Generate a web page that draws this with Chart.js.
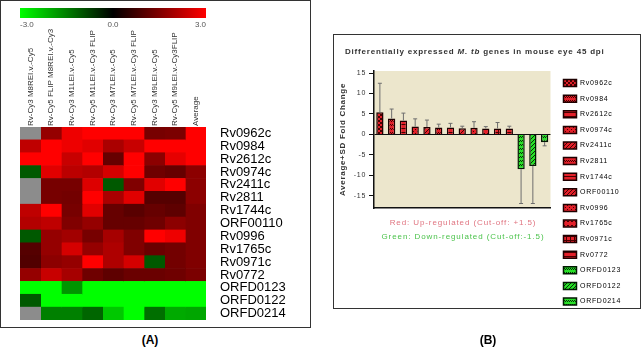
<!DOCTYPE html>
<html>
<head>
<meta charset="utf-8">
<script src="https://cdn.jsdelivr.net/npm/chart.js@4.4.0/dist/chart.umd.min.js"></script>
<style>
  body { margin: 0; background: #fff; font-family: "Liberation Sans", Arial, sans-serif; }
  #wrap { position: relative; width: 642px; height: 348px; overflow: hidden; }
  .box { position: absolute; border: 1.5px solid #333; box-sizing: border-box; }
  canvas { position: absolute; }
  .txt { position: absolute; white-space: nowrap; }
</style>
</head>
<body>
<div id="wrap">
  <div class="box" style="left:0;top:0;width:311px;height:328px"></div>
  <div class="box" style="left:333px;top:34px;width:308px;height:275px"></div>

  <canvas id="scaleBar" width="186" height="23" style="left:20px;top:8px"></canvas>
  <canvas id="heatmap" width="290" height="300" style="left:20px;top:20px"></canvas>
  <canvas id="foldChart" width="297" height="304" style="left:334px;top:36px"></canvas>

  <div class="txt" style="left:345px;top:47px;font-size:8px;font-weight:bold;letter-spacing:0.8px;color:#333">Differentially expressed <i>M. tb</i> genes in mouse eye 45 dpi</div>
  <div class="txt" style="left:360px;top:218px;width:206px;text-align:center;font-size:8px;letter-spacing:0.9px;color:#e07480">Red: Up-regulated (Cut-off: +1.5)</div>
  <div class="txt" style="left:360px;top:232px;width:206px;text-align:center;font-size:8px;letter-spacing:0.9px;color:#4cc34c">Green: Down-regulated (Cut-off:-1.5)</div>

  <div class="txt" style="left:0;top:333px;width:300px;text-align:center;font-size:12px;font-weight:bold">(A)</div>
  <div class="txt" style="left:333px;top:333px;width:310px;text-align:center;font-size:12px;font-weight:bold">(B)</div>
</div>

<script>
Chart.defaults.font.family = '"Liberation Sans", Arial, sans-serif';

// genes, same order in both panels
const genes = ['Rv0962c', 'Rv0984', 'Rv2612c', 'Rv0974c', 'Rv2411c', 'Rv2811', 'Rv1744c', 'ORF00110',
  'Rv0996', 'Rv1765c', 'Rv0971c', 'Rv0772', 'ORFD0123', 'ORFD0122', 'ORFD0214'];

// heatmap columns (arrays)
const arrays = ['Rv-Cy3 M8REI.v.-Cy5', 'Rv-Cy5 FLIP M8REI.v.-Cy3', 'Rv-Cy3 M1LEI.v.-Cy5', 'Rv-Cy5 M1LEI.v.-Cy3 FLIP',
  'Rv-Cy3 M7LEI.v.-Cy5', 'Rv-Cy5 M7LEI.v.-Cy3 FLIP', 'Rv-Cy3 M9LEI.v.-Cy5', 'Rv-Cy5 M9LEI.v.-Cy3FLIP', 'Average'];

// log ratios, one row per gene, null = no data (grey)
const logRatio = [
  [null, 1.75, 2.8, 3, 3, 3, 1.4, 1.45, 3],
  [2.25, 3, 2.8, 2.65, 2.0, 2.35, 3, 3, 3],
  [3, 3, 2.35, 3, 1.2, 3, 1.65, 2.7, 3],
  [-1.05, 2.65, 2.2, 2.1, 2.5, 3, 1.3, 1.2, 1.65],
  [null, 1.4, 1.4, 2.6, -1.05, 1.5, 2.65, 3, 1.65],
  [null, 1.4, 1.35, 3, 2.0, 2.65, 1.0, 1.0, 1.65],
  [2.25, 3, 1.4, 2.65, 1.2, 1.05, 1.2, 1.1, 1.5],
  [2.1, 2.25, 1.5, 1.75, 1.2, 1.2, 1.3, 1.65, 1.5],
  [-1.05, 1.75, 1.9, 1.4, 1.95, 1.5, 3, 2.8, 1.5],
  [1.0, 1.75, 2.5, 1.75, 2.05, 1.5, 1.25, 1.35, 1.5],
  [0.95, 1.65, 1.75, 3, 2.05, 2.5, -1.05, 1.35, 1.5],
  [1.75, 2.35, 1.95, 1.3, 1.1, 1.25, 1.25, 1.3, 1.45],
  [-3, -3, -1.75, -3, -3, -3, -3, -3, -3],
  [-1.05, -3, -3, -3, -3, -3, -3, -3, -3],
  [null, -1.5, -1.5, -1.2, -2.35, -3, -1.3, -2.0, -1.95]
];

const scaleMin = -3.0;
const scaleMax = 3.0;

// fold change (panel B)
const foldMean = [5.4, 3.9, 3.4, 1.9, 1.8, 1.7, 1.7, 1.5, 1.6, 1.45, 1.45, 1.45, -8.5, -7.7, -1.9];
const foldSD = [7.1, 2.3, 1.8, 1.9, 1.7, 0.8, 1.0, 0.5, 1.5, 0.45, 1.45, 0.55, 8.4, 9.2, 0.9];
const foldTicks = [15, 10, 5, 0, -5, -10, -15];

// fill style of each bar
const barKinds = ['check', 'wave', 'hline', 'dots', 'diag', 'wave', 'hline', 'diag',
  'dots', 'dot', 'grid', 'hline', 'wave', 'diag', 'wave'];


function cellColor(v) {
  if (v === null) return '#8c8c8c';
  const k = Math.min(Math.abs(v) / scaleMax, 1);
  const c = Math.round(255 * k);
  return v >= 0 ? 'rgb(' + c + ',0,0)' : 'rgb(0,' + c + ',0)';
}

function gradFill(ctx) {
  const area = ctx.chart.chartArea;
  if (!area) return '#000';
  const g = ctx.chart.ctx.createLinearGradient(area.left, 0, area.right, 0);
  g.addColorStop(0, cellColor(scaleMin));
  g.addColorStop(0.5, cellColor(0));
  g.addColorStop(1, cellColor(scaleMax));
  return g;
}

// drop the half-label padding chart.js adds round an axis
function noPad(s) {
  s.paddingTop = 0; s.paddingBottom = 0; s.paddingLeft = 0; s.paddingRight = 0;
}

// colour scale
new Chart(document.getElementById('scaleBar'), {
  type: 'bar',
  data: {
    labels: [''],
    datasets: [{ data: [[scaleMin, scaleMax]], backgroundColor: gradFill, borderWidth: 0,
      barPercentage: 1, categoryPercentage: 1 }]
  },
  options: {
    responsive: false, animation: false, indexAxis: 'y',
    layout: { padding: 0 },
    plugins: { legend: { display: false }, tooltip: { enabled: false } },
    scales: {
      x: { min: scaleMin, max: scaleMax,
        ticks: { stepSize: 3, align: 'inner', font: { size: 8 }, color: '#555', padding: 2,
          callback: v => Number(v).toFixed(1) },
        grid: { display: false, drawTicks: false }, border: { display: false },
        afterFit: s => { s.height = 13; noPad(s); } },
      y: { display: false }
    }
  }
});

// heatmap: one stacked bar segment per cell
new Chart(document.getElementById('heatmap'), {
  type: 'bar',
  data: {
    labels: genes,
    datasets: arrays.map((a, j) => ({
      label: a,
      data: genes.map(() => 1),
      backgroundColor: genes.map((g, i) => cellColor(logRatio[i][j])),
      borderWidth: 0, barPercentage: 1, categoryPercentage: 1
    }))
  },
  options: {
    responsive: false, animation: false, indexAxis: 'y',
    layout: { padding: 0 },
    plugins: { legend: { display: false }, tooltip: { enabled: false } },
    scales: {
      x: { stacked: true, min: 0, max: arrays.length, display: false },
      y: { stacked: true, position: 'right',
        grid: { display: false, drawTicks: false }, border: { display: false },
        ticks: { autoSkip: false, color: '#000', font: { size: 13 }, padding: 14 },
        afterFit: s => { s.width = 104; noPad(s); } },
      xTop: { type: 'category', labels: arrays, position: 'top', offset: true,
        grid: { display: false, drawTicks: false }, border: { display: false },
        ticks: { autoSkip: false, minRotation: 90, maxRotation: 90, font: { size: 8 }, color: '#333',
          padding: 1, labelOffset: 9.6 },
        afterFit: s => { s.height = 107; noPad(s); } }
    }
  }
});

// panel B
const foldCanvas = document.getElementById('foldChart');
const fctx = foldCanvas.getContext('2d');

function makePattern(base, ink, kind) {
  const c = document.createElement('canvas');
  c.width = 4; c.height = 4;
  const g = c.getContext('2d');
  g.fillStyle = base; g.fillRect(0, 0, 4, 4);
  g.fillStyle = ink;
  if (kind == 'check') { g.fillRect(0, 0, 2, 2); g.fillRect(2, 2, 2, 2); }
  if (kind == 'hline') g.fillRect(0, 0, 4, 1);
  if (kind == 'dots') { g.fillRect(1, 1, 1, 1); g.fillRect(3, 3, 1, 1); }
  if (kind == 'dot') g.fillRect(1, 1, 2, 1);
  if (kind == 'diag') for (let k = 0; k < 4; k++) g.fillRect(k, 3 - k, 1, 1);
  if (kind == 'wave') { g.fillRect(0, 0, 1, 1); g.fillRect(1, 1, 1, 1); g.fillRect(2, 0, 1, 1); g.fillRect(3, 1, 1, 1); }
  if (kind == 'grid') { g.fillRect(0, 0, 4, 1); g.fillRect(0, 0, 1, 4); }
  return fctx.createPattern(c, 'repeat');
}

const barFills = foldMean.map((v, i) => v >= 0
  ? makePattern('#e3202a', '#4a0000', barKinds[i])
  : makePattern('#28e028', '#063006', barKinds[i]));
const barEdges = foldMean.map(v => v >= 0 ? '#1e0000' : '#031803');

const plotBg = {
  id: 'plotBg',
  beforeDraw(chart) {
    const { ctx, chartArea: a } = chart;
    ctx.save();
    ctx.fillStyle = '#ece6cc';
    ctx.fillRect(a.left, a.top, a.right - a.left, a.bottom - a.top);
    ctx.restore();
  }
};

const spacing = {
  id: 'spacing',
  beforeLayout(chart) { chart.ctx.letterSpacing = '0.7px'; },
  beforeDraw(chart) { chart.ctx.letterSpacing = '0.7px'; }
};

const errorBars = {
  id: 'errorBars',
  afterDatasetsDraw(chart) {
    const ctx = chart.ctx;
    const ys = chart.scales.y;
    const meta = chart.getDatasetMeta(0);
    ctx.save();
    ctx.strokeStyle = '#6e6e6e';
    ctx.lineWidth = 1;
    meta.data.forEach((bar, i) => {
      const v = foldMean[i];
      const end = v + Math.sign(v) * foldSD[i];
      const y0 = ys.getPixelForValue(v);
      const y1 = ys.getPixelForValue(end);
      ctx.beginPath();
      ctx.moveTo(bar.x, y0);
      ctx.lineTo(bar.x, y1);
      ctx.moveTo(bar.x - 2, y1);
      ctx.lineTo(bar.x + 2, y1);
      ctx.stroke();
    });
    ctx.restore();
  }
};

new Chart(foldCanvas, {
  type: 'bar',
  data: {
    labels: genes,
    datasets: [{
      data: foldMean,
      backgroundColor: barFills,
      borderColor: barEdges,
      borderWidth: 1.5,
      barPercentage: 0.62,
      categoryPercentage: 1
    }]
  },
  options: {
    responsive: false, animation: false,
    layout: { padding: { top: 35 } },
    plugins: {
      tooltip: { enabled: false },
      legend: {
        position: 'right', align: 'start', maxWidth: 200,
        labels: {
          boxWidth: 13, boxHeight: 7, padding: 8.6,
          font: { size: 7 }, color: '#444',
          generateLabels: () => genes.map((g, i) => ({
            text: g, fillStyle: barFills[i], strokeStyle: barEdges[i], lineWidth: 1.5,
            hidden: false, index: i, datasetIndex: 0
          }))
        }
      }
    },
    scales: {
      x: {
        ticks: { display: false },
        grid: { display: false },
        border: { color: '#111', width: 1.5 },
        afterFit: s => { s.height = 132; }
      },
      y: {
        min: -18, max: 15.5,
        afterBuildTicks: s => { s.ticks = foldTicks.map(v => ({ value: v })); },
        ticks: { font: { size: 7 }, color: '#333', padding: 3 },
        grid: {
          color: c => (c.tick && c.tick.value === 0) ? '#111' : 'rgba(0,0,0,0)',
          tickColor: '#111', tickLength: 5, lineWidth: 1
        },
        border: { color: '#111', width: 1.5 },
        title: { display: true, text: 'Average+SD Fold Change', font: { size: 8, weight: 'bold' },
          color: '#333', padding: { top: 4, bottom: 4 } },
        afterFit: s => { s.width = 40; }
      },
      // blank gap between plot and legend
      gap: {
        position: 'right', axis: 'y',
        ticks: { display: false }, grid: { display: false, drawTicks: false }, border: { display: false },
        afterFit: s => { s.width = 4.4; }
      }
    }
  },
  plugins: [plotBg, spacing, errorBars]
});
</script>
</body>
</html>
